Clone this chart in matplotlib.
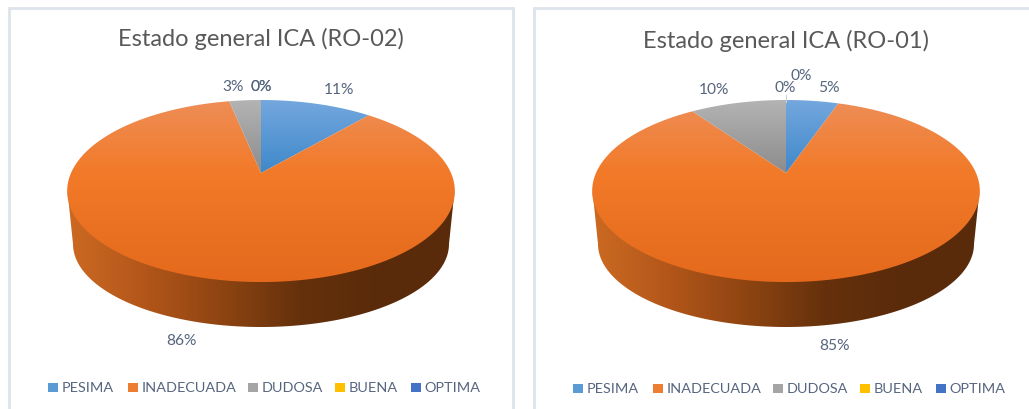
import numpy as np
import matplotlib
matplotlib.use("Agg")
import matplotlib.pyplot as plt
from matplotlib.patches import Polygon, Rectangle
from matplotlib.colors import LinearSegmentedColormap

categories = ["PESIMA", "INADECUADA", "DUDOSA", "BUENA", "OPTIMA"]
titles = ["Estado general ICA (RO-02)", "Estado general ICA (RO-01)"]
values_ro02 = [11.3, 85.5, 3.2, 0, 0]
values_ro01 = [5.3, 85.0, 9.7, 0, 0]
swatch_colors = ["#5B9BD5", "#ED7D31", "#A5A5A5", "#FFC000", "#4472C4"]

W, H = 1029, 410
plt.rcParams["font.family"] = ["Lato", "DejaVu Sans"]
fig = plt.figure(figsize=(W / 100, H / 100), dpi=100)
ax = fig.add_axes([0, 0, 1, 1])
ax.set_xlim(0, W)
ax.set_ylim(H, 0)
ax.axis("off")

GRADS = {
    0: [(0, "#74A8DE"), (1, "#3F88CA")],
    1: [(0, "#EE8E58"), (0.4, "#F27A28"), (1, "#E4691C")],
    2: [(0, "#B4B4B4"), (1, "#8C8C8C")],
    3: [(0, "#FFC000"), (1, "#FFC000")],
    4: [(0, "#4472C4"), (1, "#4472C4")],
}
LAB = "#56657F"


def project(theta, cx):
    """Perspective projection of the pie's unit circle; theta clockwise from top."""
    u, v = np.sin(theta), np.cos(theta)
    den = 1 + 0.198 * v
    return cx + 190 * u / den, (174 - 53 * v) / den


def gradient_fill(patch, extent, colors, horizontal=False, z=2):
    ax.add_patch(patch)
    patch.set_facecolor("none")
    patch.set_edgecolor("none")
    cmap = LinearSegmentedColormap.from_list("g", colors)
    g = np.linspace(0, 1, 256)
    g = g[None, :] if horizontal else g[:, None]
    im = ax.imshow(g, extent=extent, cmap=cmap, aspect="auto", zorder=z,
                   origin="upper", interpolation="bilinear")
    im.set_clip_path(patch)


def draw_pie(values, cx, label_pos, title, title_y):
    ax.add_patch(Rectangle((cx - 252, 9), 504, 500, fc="white", ec="#DEE4EB", lw=2, zorder=1))
    ax.text(cx, title_y, title, ha="center", va="center", fontsize=17.0, color="#595959", zorder=6)

    # side wall: its upper edge runs hidden under the top surface
    t = np.linspace(np.pi / 2, 3 * np.pi / 2, 200)
    top = np.column_stack([cx + 193.5 * np.sin(t), 192 - 80 * np.cos(t)])
    bot = np.column_stack([cx + 188 * np.sin(t), 245 - 83 * np.cos(t)])
    side = Polygon(np.vstack([top, bot[::-1]]), closed=True)
    gradient_fill(side, (cx - 194, cx + 194, 330, 190),
                  ["#CC6A22", "#B2561A", "#8E4411", "#65310C", "#5A2B0A", "#5A2B0A"],
                  horizontal=True)

    # top surface, one wedge per value
    fr = np.cumsum([0] + values) / sum(values) * 2 * np.pi
    for i, v in enumerate(values):
        if v == 0:
            continue
        th = np.linspace(fr[i], fr[i + 1], 300)
        x, y = project(th, cx)
        pts = np.vstack([[cx, 174], np.column_stack([x, y])])
        gradient_fill(Polygon(pts, closed=True),
                      (cx - 200, cx + 200, 174 if i != 1 else 284, 100),
                      GRADS[i], z=3)

    # data labels
    for v, (lx, ly) in zip(values, label_pos):
        ax.text(lx, ly, f"{v:.0f}%", ha="center", va="center", fontsize=11.2, color=LAB, zorder=7)


draw_pie(values_ro02, 261, [(339, 90.5), (181, 341), (233, 87), (261, 87), (261, 87)], titles[0], 39)
draw_pie(values_ro01, 786, [(829, 88), (834, 346), (714, 90), (785, 88), (801, 76)], titles[1], 41)
ax.plot([786, 786], [103, 96], color="#C9D2DC", lw=0.8, zorder=5)

# legends
for off, yl in ((0, 388), (525, 389)):
    sx = [48, 128, 248, 335, 411]
    tx = [62, 142, 262, 349, 424]
    for c, col, a, b in zip(categories, swatch_colors, sx, tx):
        ax.add_patch(Rectangle((a + off, yl - 4.5), 9.5, 9, fc=col, ec="none", zorder=5))
        ax.text(b + off, yl, c, ha="left", va="center", fontsize=10.4, color=LAB, zorder=7)

fig.savefig("out.png", dpi=100)
